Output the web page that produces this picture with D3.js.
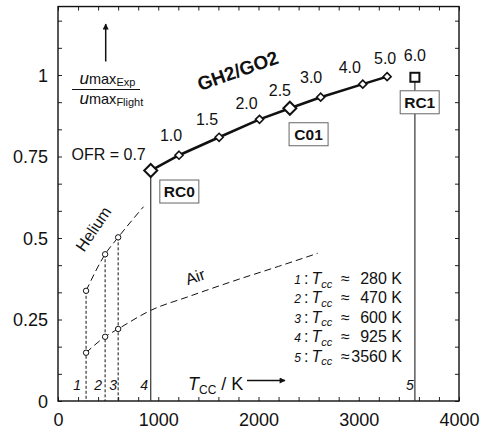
<!DOCTYPE html>
<html>
<head>
<meta charset="utf-8">
<script src="https://cdn.jsdelivr.net/npm/d3@7"></script>
<style>
  body { margin: 0; background: #fff; }
  svg { display: block; font-family: "Liberation Sans", Arial, sans-serif; }
</style>
</head>
<body>
<svg id="chart" width="483" height="431"></svg>
<script>
// GH2/GO2 operating points: mixture ratio, chamber temperature (K), velocity ratio
const ofrLabels = ["0.7", "1.0", "1.5", "2.0", "2.5", "3.0", "4.0", "5.0"];
const gh2Tcc = [925, 1207, 1607, 2010, 2313, 2620, 3040, 3283];
const gh2Ratio = [0.707, 0.754, 0.809, 0.864, 0.898, 0.932, 0.972, 0.995];

// RC1 point (not on the connected line)
const rc1Ofr = "6.0";
const rc1Tcc = 3560;
const rc1Ratio = 0.993;

// Helium and air reference curves
const heliumTcc = [280, 470, 600, 853];
const heliumRatio = [0.338, 0.450, 0.502, 0.596];
const airTcc = [280, 470, 600, 925, 1300, 1750, 2200, 2590];
const airRatio = [0.148, 0.197, 0.221, 0.278, 0.320, 0.368, 0.413, 0.453];

// Measured points on the helium / air curves
const markTcc = [280, 470, 600];
const markHelium = [0.338, 0.450, 0.502];
const markAir = [0.148, 0.197, 0.221];

// Numbered temperature cases
const caseIds = ["1", "2", "3", "4", "5"];
const caseTcc = [280, 470, 600, 925, 3560];

// Axis ticks
const xTickLabels = [0, 1000, 2000, 3000, 4000];
const yTickValues = [0, 0.25, 0.5, 0.75, 1];
const yTickLabels = ["0", "0.25", "0.5", "0.75", "1"];

// ---- layout ----
const svg = d3.select("#chart");
const plot = { left: 58, right: 459, bottom: 401 };
const yMax = 1.21;
const x = d3.scaleLinear().domain([0, 4000]).range([plot.left, plot.right]);
const y = d3.scaleLinear().domain([0, yMax]).range([plot.bottom, plot.bottom - yMax * 326]);
const plotTop = y(yMax);

const minorX = d3.range(0, 4001, 200);
const minorY = d3.range(0, 15).map(i => i / 12).filter(v => v <= yMax);

// axes: ticks point inward on all four sides
const fmtX = d => (xTickLabels.includes(d) ? String(d) : "");
const fmtY = d => {
  const i = yTickValues.findIndex(v => Math.abs(v - d) < 1e-6);
  return i >= 0 ? yTickLabels[i] : "";
};

const gx = svg.append("g").attr("transform", `translate(0,${plot.bottom})`)
  .call(d3.axisBottom(x).tickValues(minorX).tickSize(-4).tickPadding(12).tickFormat(fmtX));
const gy = svg.append("g").attr("transform", `translate(${plot.left},0)`)
  .call(d3.axisLeft(y).tickValues(minorY).tickSize(-4).tickPadding(10).tickFormat(fmtY));
const gt = svg.append("g").attr("transform", `translate(0,${plotTop})`)
  .call(d3.axisTop(x).tickValues(minorX).tickSize(-4).tickFormat(""));
const gr = svg.append("g").attr("transform", `translate(${plot.right},0)`)
  .call(d3.axisRight(y).tickValues(minorY).tickSize(-4).tickFormat(""));

[gx, gy, gt, gr].forEach(g => {
  g.select(".domain").remove();
  g.selectAll(".tick line").attr("stroke", "#222").attr("stroke-width", 1);
  g.selectAll(".tick text").attr("font-size", 18).attr("fill", "#111")
    .attr("font-family", '"Liberation Sans", Arial, sans-serif');
});
gy.selectAll(".tick text").attr("dy", "0.36em");

svg.append("rect")
  .attr("x", plot.left).attr("y", plotTop)
  .attr("width", plot.right - plot.left).attr("height", plot.bottom - plotTop)
  .attr("fill", "none").attr("stroke", "#111").attr("stroke-width", 1.4);

// ---- reference curves ----
const curve = d3.line().x(d => x(d[0])).y(d => y(d[1])).curve(d3.curveMonotoneX);

svg.append("path")
  .attr("d", curve(heliumTcc.map((t, i) => [t, heliumRatio[i]])))
  .attr("fill", "none").attr("stroke", "#111").attr("stroke-width", 1)
  .attr("stroke-dasharray", "7,4");
svg.append("path")
  .attr("d", curve(airTcc.map((t, i) => [t, airRatio[i]])))
  .attr("fill", "none").attr("stroke", "#111").attr("stroke-width", 1)
  .attr("stroke-dasharray", "7,4");

// dotted drop lines from the helium points to the axis
svg.selectAll(".drop").data(markTcc).join("line")
  .attr("x1", d => x(d)).attr("x2", d => x(d))
  .attr("y1", (d, i) => y(markHelium[i])).attr("y2", y(0))
  .attr("stroke", "#111").attr("stroke-width", 1).attr("stroke-dasharray", "3,2");

// solid drop lines for RC0 and RC1
svg.append("line")
  .attr("x1", x(gh2Tcc[0])).attr("x2", x(gh2Tcc[0]))
  .attr("y1", y(gh2Ratio[0])).attr("y2", y(0))
  .attr("stroke", "#333").attr("stroke-width", 1.2);
svg.append("line")
  .attr("x1", x(rc1Tcc)).attr("x2", x(rc1Tcc))
  .attr("y1", y(rc1Ratio)).attr("y2", y(0))
  .attr("stroke", "#333").attr("stroke-width", 1.2);

// circle markers
const circ = markTcc.flatMap((t, i) => [[t, markHelium[i]], [t, markAir[i]]]);
svg.selectAll(".pt").data(circ).join("circle")
  .attr("cx", d => x(d[0])).attr("cy", d => y(d[1])).attr("r", 2.7)
  .attr("fill", "#fff").attr("stroke", "#111").attr("stroke-width", 1);

// ---- GH2/GO2 line ----
const gh2 = gh2Tcc.map((t, i) => [t, gh2Ratio[i]]);
svg.append("path")
  .attr("d", d3.line().x(d => x(d[0])).y(d => y(d[1]))(gh2))
  .attr("fill", "none").attr("stroke", "#111").attr("stroke-width", 2.6);

const diamond = s => `M0,${-s}L${s},0L0,${s}L${-s},0Z`;
const bigIdx = [0, 4];
svg.selectAll(".dia").data(gh2).join("path")
  .attr("transform", d => `translate(${x(d[0])},${y(d[1])})`)
  .attr("d", (d, i) => diamond(bigIdx.includes(i) ? 6.5 : 4))
  .attr("fill", "#fff").attr("stroke", "#111")
  .attr("stroke-width", (d, i) => bigIdx.includes(i) ? 2 : 1.6);

svg.append("rect")
  .attr("x", x(rc1Tcc) - 4.5).attr("y", y(rc1Ratio) - 4.5)
  .attr("width", 9).attr("height", 9)
  .attr("fill", "#fff").attr("stroke", "#111").attr("stroke-width", 2);

// mixture-ratio labels (center dx, baseline dy)
const ofrOffsets = [[-5, -11], [-8, -14], [-12, -12], [-13, -10], [-10, -12], [-9.5, -14], [-13, -11], [-2, -13]];
svg.selectAll(".ofr").data(gh2).join("text")
  .attr("x", (d, i) => x(d[0]) + ofrOffsets[i][0])
  .attr("y", (d, i) => y(d[1]) + ofrOffsets[i][1])
  .attr("text-anchor", (d, i) => i === 0 ? "end" : "middle")
  .attr("font-size", 16).attr("fill", "#111")
  .text((d, i) => i === 0 ? `OFR = ${ofrLabels[i]}` : ofrLabels[i]);
svg.append("text")
  .attr("x", x(rc1Tcc)).attr("y", y(rc1Ratio) - 16)
  .attr("text-anchor", "middle").attr("font-size", 16).attr("fill", "#111")
  .text(rc1Ofr);

// GH2/GO2 series title
svg.append("text")
  .attr("transform", "translate(240,77) rotate(-19.5)")
  .attr("text-anchor", "middle").attr("font-size", 19).attr("font-weight", "bold")
  .attr("fill", "#111").text("GH2/GO2");

// case name boxes
const boxNames = ["RC0", "C01", "RC1"];
const boxes = [
  { name: boxNames[0], t: gh2Tcc[0], r: gh2Ratio[0], dx: 28.6, dy: 21 },
  { name: boxNames[1], t: gh2Tcc[4], r: gh2Ratio[4], dx: 18.7, dy: 26 },
  { name: boxNames[2], t: rc1Tcc, r: rc1Ratio, dx: 4.8, dy: 25 }
];
const bg = svg.selectAll(".box").data(boxes).join("g")
  .attr("transform", d => `translate(${x(d.t) + d.dx},${y(d.r) + d.dy})`);
bg.append("rect").attr("x", -19.5).attr("y", -11.5).attr("width", 39).attr("height", 23)
  .attr("fill", "#fff").attr("stroke", "#666").attr("stroke-width", 1);
bg.append("text").attr("text-anchor", "middle").attr("y", 5.5)
  .attr("font-size", 15.5).attr("font-weight", "bold").attr("fill", "#111")
  .text(d => d.name);

// curve names
svg.append("text")
  .attr("transform", "translate(98,232) rotate(-56)")
  .attr("text-anchor", "middle").attr("font-size", 16).attr("fill", "#111").text("Helium");
svg.append("text")
  .attr("transform", "translate(197,282) rotate(-19)")
  .attr("text-anchor", "middle").attr("font-size", 16).attr("fill", "#111").text("Air");

// case numbers near the axis
const caseDx = [-9, -7, -5, -6.5, -5];
svg.selectAll(".case").data(caseIds).join("text")
  .attr("x", (d, i) => x(caseTcc[i]) + caseDx[i])
  .attr("y", 390)
  .attr("text-anchor", "middle").attr("font-size", 14).attr("font-style", "italic")
  .attr("fill", "#111")
  .text(d => d);

// x axis title with arrow
const xt = svg.append("text").attr("x", 188).attr("y", 390).attr("fill", "#111");
xt.append("tspan").attr("font-size", 18).attr("font-style", "italic").text("T");
xt.append("tspan").attr("font-size", 12).attr("dy", 4).text("CC");
xt.append("tspan").attr("font-size", 18).attr("dy", -4).text(" / K");

const defs = svg.append("defs");
defs.append("marker").attr("id", "head").attr("viewBox", "0 0 10 10")
  .attr("refX", 9).attr("refY", 5).attr("markerWidth", 9).attr("markerHeight", 6)
  .attr("markerUnits", "userSpaceOnUse").attr("orient", "auto")
  .append("path").attr("d", "M0,0L10,5L0,10Z").attr("fill", "#111");

svg.append("line").attr("x1", 247).attr("x2", 285).attr("y1", 380.5).attr("y2", 380.5)
  .attr("stroke", "#111").attr("stroke-width", 1.5).attr("marker-end", "url(#head)");

// y axis title: velocity ratio with upward arrow
svg.append("line").attr("x1", 105.7).attr("x2", 105.7).attr("y1", 61.5).attr("y2", 24)
  .attr("stroke", "#111").attr("stroke-width", 1.5).attr("marker-end", "url(#head)");

function ratioPart(yBase, sub) {
  const t = svg.append("text").attr("x", 79.5).attr("y", yBase).attr("fill", "#111");
  t.append("tspan").attr("font-size", 17).attr("font-style", "italic").text("u");
  t.append("tspan").attr("font-size", 14.5).text("max");
  t.append("tspan").attr("font-size", 11).attr("dy", 2).text(sub);
}
ratioPart(84, "Exp");
ratioPart(103.5, "Flight");
svg.append("line").attr("x1", 72).attr("x2", 140).attr("y1", 89.5).attr("y2", 89.5)
  .attr("stroke", "#111").attr("stroke-width", 1);

// legend of case temperatures
const lg = svg.selectAll(".lg").data(caseIds).join("g")
  .attr("transform", (d, i) => `translate(0,${284 + i * 19.4})`);
lg.append("text").attr("x", 301).attr("text-anchor", "end")
  .attr("font-size", 12).attr("font-style", "italic").attr("fill", "#111").text(d => d);
lg.append("text").attr("x", 304).attr("font-size", 16).attr("fill", "#111").text(":");
const lt = lg.append("text").attr("x", 311.5).attr("fill", "#111");
lt.append("tspan").attr("font-size", 16).attr("font-style", "italic").text("T");
lt.append("tspan").attr("font-size", 11).attr("font-style", "italic").attr("dy", 3.5).text("cc");
lg.append("text").attr("x", 341).attr("font-size", 16).attr("fill", "#111").text("\u2248");
lg.append("text").attr("x", 402).attr("text-anchor", "end")
  .attr("font-size", 16).attr("fill", "#111").text((d, i) => `${caseTcc[i]} K`);
</script>
</body>
</html>
